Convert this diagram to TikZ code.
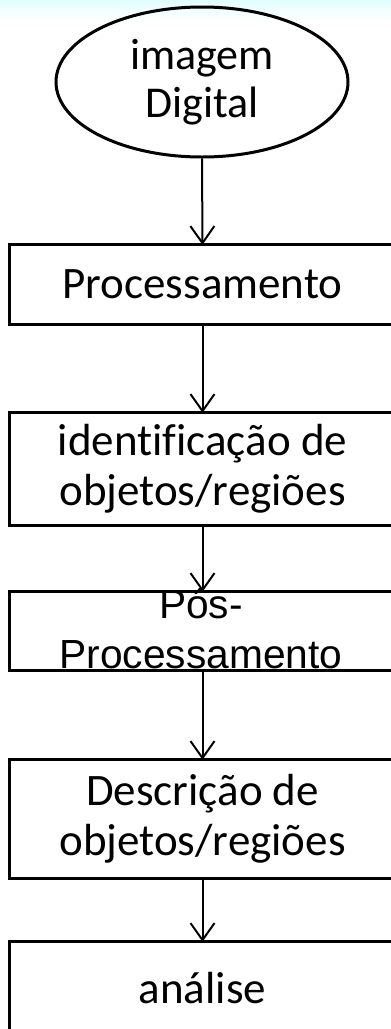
\documentclass[tikz,border=0pt]{standalone}
\usepackage{fontspec}
\setmainfont{Carlito}[Ligatures=NoCommon]
\newfontfamily\posfont{Liberation Sans}
\usetikzlibrary{arrows.meta,positioning,shapes.geometric}

\begin{document}
\begin{tikzpicture}[
    x=1pt,y=-1pt,
    stepbox/.style={minimum width=385pt, inner sep=0pt,
                    align=center, font=\fontsize{45}{50}\selectfont},
    boxline/.style={line width=3pt},
    startnode/.style={draw, ellipse, line width=3pt, minimum width=292pt,
                      minimum height=150pt, inner sep=0pt, align=center,
                      font=\fontsize{44}{48}\selectfont},
    arrow/.style={-{Straight Barb[length=17pt,width=24pt]}, line width=2pt}
]
\useasboundingbox (0,0) rectangle (391,1029);
\shade[top color=cyan!12, bottom color=white] (0,0) rectangle (391,20);

% Flow nodes
\node[startnode] (img) at (202,82) {imagem\\Digital};
\node[stepbox, minimum height=79pt] (proc) at (202.5,284.5) {Processamento};
\node[stepbox, minimum height=112pt] (ident) at (202.5,469) {identificação de\\objetos/regiões};
\node[stepbox, minimum height=78pt] (pos) at (202.5,631) {};
\node[font=\posfont\fontsize{40.7}{50}\selectfont, align=center, inner sep=0pt] (postext) at (201,629) {Pós-\\Processamento};
\node[stepbox, minimum height=118pt] (desc) at (202.5,819) {Descrição de\\objetos/regiões};
\node[stepbox, minimum height=92pt] (anal) at (202.5,988) {análise};

% Box outlines, cut off at the right edge
\foreach \n in {proc,ident,pos,desc,anal}
  \draw[boxline] ([xshift=60pt]\n.north east) -- (\n.north west)
                 -- (\n.south west) -- ([xshift=60pt]\n.south east);

% Arrows
\draw[arrow] (img.south) -- (proc.north);
\draw[arrow] (proc.south) -- (ident.north);
\draw[arrow] (ident.south) -- (pos.north);
\draw[arrow] (pos.south) -- (desc.north);
\draw[arrow] (desc.south) -- (anal.north);
\end{tikzpicture}
\end{document}
